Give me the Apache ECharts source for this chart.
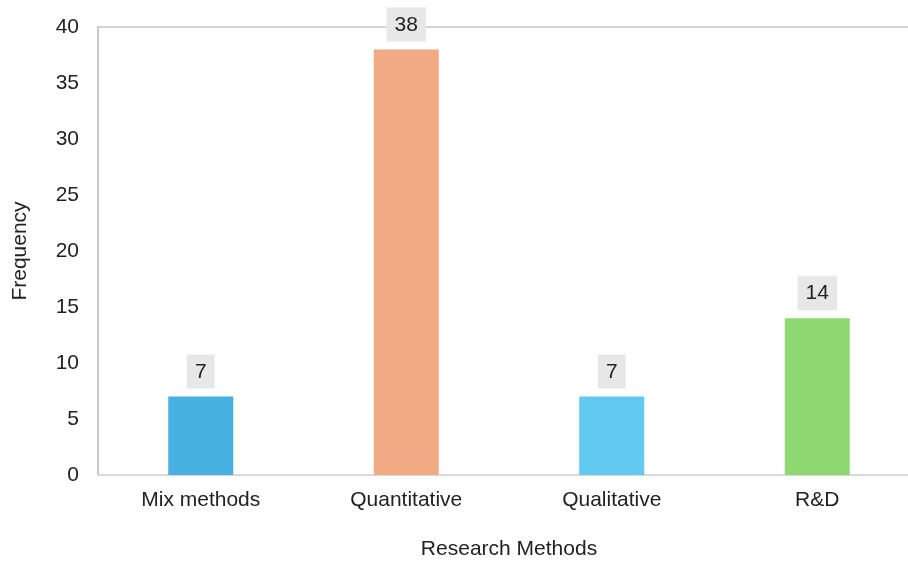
<!DOCTYPE html>
<html>
<head>
<meta charset="utf-8">
<script src="https://cdn.jsdelivr.net/npm/echarts@6/dist/echarts.min.js"></script>
<style>
  html, body { margin: 0; padding: 0; background: #ffffff; }
  #chart { width: 908px; height: 561px; }
</style>
</head>
<body>
<div id="chart"></div>
<script>
// Research method frequencies
const categories = ['Mix methods', 'Quantitative', 'Qualitative', 'R&D'];
const frequencies = [7, 38, 7, 14];
const barColors = ['#46B0E0', '#F2AA84', '#62C9F1', '#8ED872'];
const yTicks = [0, 5, 10, 15, 20, 25, 30, 35, 40];

const chart = echarts.init(document.getElementById('chart'));
const font = 'Liberation Sans, Arial, sans-serif';

chart.setOption({
  animation: false,
  grid: {
    left: 98, right: -12, top: 27, bottom: 86,
    containLabel: false,
    outerBoundsMode: 'none',
    show: true, borderColor: '#d4d4d4', borderWidth: 2
  },
  xAxis: {
    type: 'category',
    data: categories,
    name: 'Research Methods',
    nameLocation: 'middle',
    nameGap: 64,
    nameTextStyle: { fontFamily: font, fontSize: 21, color: '#222' },
    axisLine: { lineStyle: { color: '#d9d9d9', width: 2 } },
    axisTick: { show: false },
    axisLabel: { fontFamily: font, fontSize: 21, color: '#222', margin: 15 }
  },
  yAxis: {
    type: 'value',
    min: yTicks[0],
    max: yTicks[yTicks.length - 1],
    interval: 5,
    name: 'Frequency',
    nameLocation: 'middle',
    nameGap: 67,
    nameTextStyle: { fontFamily: font, fontSize: 21, color: '#222' },
    axisLine: { show: true, lineStyle: { color: '#c8c8c8', width: 2 } },
    axisTick: { show: false },
    splitLine: { show: false },
    axisLabel: { fontFamily: font, fontSize: 21, color: '#222', margin: 19 }
  },
  series: [{
    type: 'bar',
    data: frequencies.map((v, i) => ({ value: v, itemStyle: { color: barColors[i] } })),
    barWidth: 65,
    label: {
      show: true,
      position: 'top',
      distance: 8,
      fontFamily: font,
      fontSize: 21,
      color: '#222',
      backgroundColor: '#e7e7e8',
      padding: [7, 8, 6, 8]
    }
  }]
});
</script>
</body>
</html>
